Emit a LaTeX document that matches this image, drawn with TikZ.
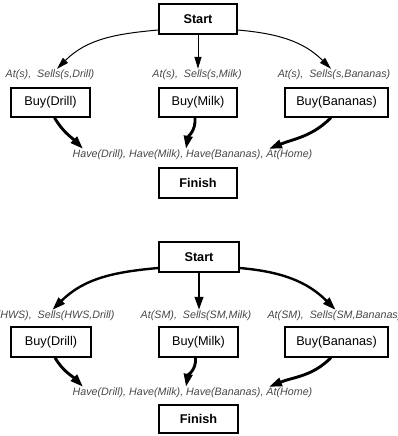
\documentclass[tikz,border=0pt]{standalone}
\usepackage{fontspec}
\setmainfont{Liberation Sans}
\usetikzlibrary{arrows.meta}
\tikzset{
  box/.style={draw=black, line width=1.3pt, inner sep=0pt, minimum height=29pt, font=\fontsize{12.7}{14}\selectfont},
  boldbox/.style={box, font=\fontsize{12.7}{14}\selectfont\bfseries},
  lab/.style={inner sep=1pt, text=black!72, font=\fontsize{10.7}{12}\selectfont\itshape},
  thinarr/.style={line width=1pt, -{Triangle[length=12pt,width=7pt]}},
  thickarr/.style={line width=2.9pt, -{Triangle[length=13pt,width=8.5pt]}},
}
\begin{document}
\begin{tikzpicture}[x=1pt,y=1pt]
\useasboundingbox (0,0) rectangle (397,-436);
% ---------- top diagram ----------
\node[boldbox, minimum width=78pt, minimum height=30pt] (start1) at (198,-19) {Start};
\node[lab] (la1) at (50,-75) {At(s), \ Sells(s,Drill)};
\node[lab] (lb1) at (197,-75) {At(s), \ Sells(s,Milk)};
\node[lab] (lc1) at (334,-75) {At(s), \ Sells(s,Bananas)};
\node[box, minimum width=79pt] (buyA1) at (50.5,-102.5) {Buy(Drill)};
\node[box, minimum width=78pt] (buyB1) at (198,-102.5) {Buy(Milk)};
\node[box, minimum width=103pt] (buyC1) at (336.5,-102.5) {Buy(Bananas)};
\node[lab] (have1) at (192.5,-155) {Have(Drill), Have(Milk), Have(Bananas), At(Home)};
\node[boldbox, minimum width=78pt, minimum height=30pt] (finish1) at (198,-183) {Finish};
\draw[thinarr] ([yshift=-11pt]start1.west) to[out=185,in=45] ([xshift=7pt]la1.north);
\draw[thinarr] (start1.south) -- (start1.south |- lb1.north);
\draw[thinarr] ([yshift=-11pt]start1.east) to[out=-5,in=135] ([xshift=-3pt]lc1.north);
\draw[thickarr] ([xshift=4pt]buyA1.south) to[out=-60,in=135] ([xshift=-109.5pt]have1.north);
\draw[thickarr] ([xshift=-3pt]buyB1.south) to[out=-85,in=80] ([xshift=-6.5pt]have1.north);
\draw[thickarr] ([xshift=-5.5pt]buyC1.south) to[out=-135,in=22] ([xshift=76.5pt]have1.north);
% ---------- bottom diagram ----------
\node[boldbox, minimum width=80pt, minimum height=30pt] (start2) at (199,-257) {Start};
\node[lab] (la2) at (50.5,-316) {At(HWS), \ Sells(HWS,Drill)};
\node[lab] (lb2) at (196,-316) {At(SM), \ Sells(SM,Milk)};
\node[lab] (lc2) at (334.5,-316) {At(SM), \ Sells(SM,Bananas)};
\node[box, minimum width=80pt, minimum height=30pt] (buyA2) at (51,-342) {Buy(Drill)};
\node[box, minimum width=79pt, minimum height=30pt] (buyB2) at (198.5,-342) {Buy(Milk)};
\node[box, minimum width=103pt, minimum height=30pt] (buyC2) at (336.5,-342) {Buy(Bananas)};
\node[lab] (have2) at (192.5,-393) {Have(Drill), Have(Milk), Have(Bananas), At(Home)};
\node[boldbox, minimum width=79pt, minimum height=28pt] (finish2) at (198.5,-419) {Finish};
\draw[thickarr, line width=2.4pt] ([yshift=-11pt]start2.west) to[out=185,in=45] ([xshift=2pt]la2.north);
\draw[thickarr, line width=2.4pt] (start2.south) -- (start2.south |- lb2.north);
\draw[thickarr, line width=2.4pt] ([yshift=-11pt]start2.east) to[out=-5,in=135] ([xshift=1pt]lc2.north);
\draw[thickarr] ([xshift=4pt]buyA2.south) to[out=-60,in=135] ([xshift=-109.5pt]have2.north);
\draw[thickarr] ([xshift=-3pt]buyB2.south) to[out=-85,in=80] ([xshift=-6.5pt]have2.north);
\draw[thickarr] ([xshift=-5.5pt]buyC2.south) to[out=-135,in=22] ([xshift=76.5pt]have2.north);
\end{tikzpicture}
\end{document}
